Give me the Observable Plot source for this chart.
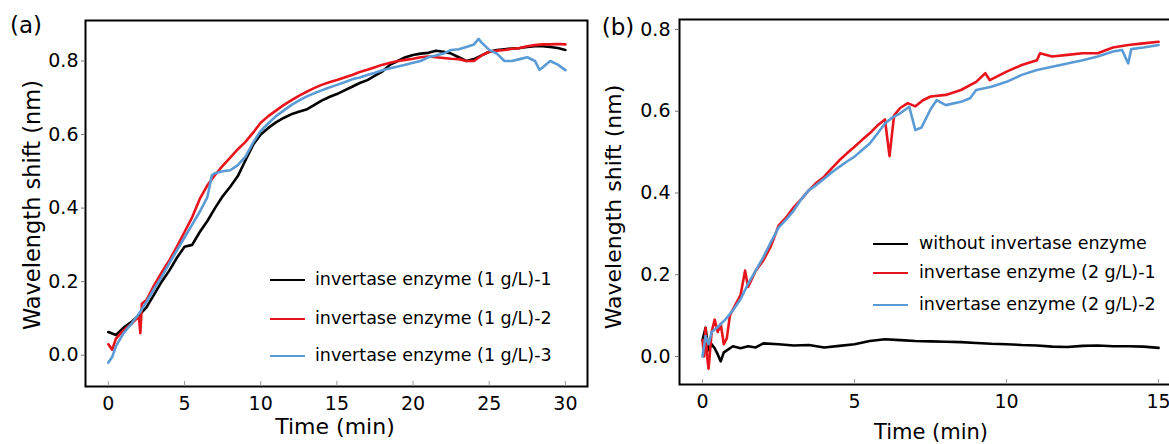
<!DOCTYPE html>
<html><head><meta charset="utf-8">
<script src="https://cdn.jsdelivr.net/npm/d3@7"></script>
<script src="https://cdn.jsdelivr.net/npm/@observablehq/plot@0.6"></script>
<style>
body{margin:0;background:#fff;}
#wrap{position:relative;width:1169px;height:444px;overflow:hidden;font-family:"DejaVu Sans",sans-serif;color:#000;background:#fff;}
.abs{position:absolute;white-space:nowrap;line-height:1;}
.panel{position:absolute;top:0;}
</style></head><body><div id="wrap"></div>
<script>
// ---------- Panel (a) data ----------
const xTicksA = [0, 5, 10, 15, 20, 25, 30];
const yTicksA = [0.0, 0.2, 0.4, 0.6, 0.8];
const labelsA = ["invertase enzyme (1 g/L)-1", "invertase enzyme (1 g/L)-2", "invertase enzyme (1 g/L)-3"];

const tA1 = [0,0.5,1,1.5,2,2.5,3,3.5,4,4.5,5,5.5,6,6.5,7,7.5,8,8.5,9,9.5,10,10.5,11,11.5,12,12.5,13,13.5,14,14.5,15,15.5,16,16.5,17,17.5,18,18.5,19,19.5,20,20.5,21,21.5,22,22.5,23,23.5,24,24.5,25,25.5,26,26.5,27,27.5,28,28.5,29,29.5,30];
const vA1 = [0.063,0.055,0.075,0.09,0.108,0.13,0.165,0.2,0.23,0.265,0.295,0.30,0.335,0.365,0.40,0.432,0.458,0.487,0.53,0.572,0.60,0.618,0.633,0.645,0.655,0.662,0.668,0.68,0.692,0.702,0.71,0.72,0.73,0.74,0.748,0.76,0.772,0.79,0.80,0.81,0.816,0.82,0.822,0.828,0.825,0.82,0.81,0.80,0.805,0.815,0.825,0.83,0.832,0.834,0.835,0.838,0.84,0.84,0.838,0.835,0.83];

const tA2 = [0,0.25,0.5,1,1.5,2,2.1,2.2,2.5,3,3.5,4,4.5,5,5.5,6,6.5,7,7.5,8,8.5,9,9.5,10,10.5,11,11.5,12,12.5,13,13.5,14,14.5,15,15.5,16,16.5,17,17.5,18,18.5,19,19.5,20,20.5,21,21.5,22,22.5,23,23.5,24,24.5,25,25.5,26,26.5,27,27.5,28,28.5,29,29.5,30];
const vA2 = [0.03,0.015,0.045,0.068,0.085,0.105,0.06,0.14,0.15,0.19,0.225,0.258,0.295,0.335,0.375,0.425,0.462,0.49,0.515,0.537,0.56,0.58,0.605,0.632,0.65,0.665,0.68,0.693,0.705,0.716,0.726,0.735,0.742,0.748,0.755,0.762,0.77,0.776,0.783,0.79,0.795,0.80,0.803,0.806,0.81,0.812,0.81,0.808,0.806,0.805,0.80,0.80,0.815,0.825,0.828,0.83,0.833,0.835,0.84,0.843,0.845,0.845,0.846,0.845];

const tA3 = [0,0.25,0.5,1,1.5,2,2.5,3,3.5,4,4.5,5,5.5,6,6.5,6.8,7,7.5,8,8.5,9,9.5,10,10.5,11,11.5,12,12.5,13,13.5,14,14.5,15,15.5,16,16.5,17,17.5,18,18.5,19,19.5,20,20.5,21,21.5,22,22.5,23,23.5,24,24.3,24.5,25,25.5,26,26.5,27,27.5,28,28.3,28.5,29,29.5,30];
const vA3 = [-0.02,-0.005,0.025,0.06,0.085,0.112,0.145,0.18,0.213,0.25,0.285,0.32,0.355,0.39,0.43,0.49,0.495,0.50,0.503,0.517,0.54,0.578,0.61,0.63,0.65,0.665,0.68,0.692,0.703,0.712,0.72,0.728,0.735,0.742,0.75,0.755,0.762,0.768,0.775,0.78,0.785,0.79,0.795,0.80,0.81,0.815,0.82,0.83,0.832,0.838,0.845,0.86,0.85,0.83,0.82,0.80,0.80,0.805,0.81,0.80,0.776,0.782,0.80,0.79,0.775];

// ---------- Panel (b) data ----------
const xTicksB = [0, 5, 10, 15];
const yTicksB = [0.0, 0.2, 0.4, 0.6, 0.8];
const labelsB = ["without invertase enzyme", "invertase enzyme (2 g/L)-1", "invertase enzyme (2 g/L)-2"];

const tB1 = [0,0.1,0.2,0.3,0.4,0.5,0.6,0.7,0.8,1,1.25,1.5,1.75,2,2.5,3,3.5,4,4.5,5,5.5,6,6.5,7,7.5,8,8.5,9,9.5,10,10.5,11,11.5,12,12.5,13,13.5,14,14.5,15];
const vB1 = [0.04,0.07,0.015,0.03,0.02,0.005,-0.012,0.01,0.015,0.025,0.02,0.025,0.022,0.032,0.03,0.027,0.028,0.022,0.026,0.03,0.038,0.042,0.04,0.038,0.037,0.036,0.035,0.033,0.031,0.03,0.028,0.027,0.024,0.023,0.026,0.027,0.025,0.025,0.024,0.021];

const tB2 = [0,0.05,0.1,0.15,0.2,0.3,0.4,0.5,0.6,0.7,0.8,0.9,1,1.25,1.4,1.5,1.75,2,2.25,2.5,2.75,3,3.25,3.5,3.75,4,4.25,4.5,4.75,5,5.25,5.5,5.75,6,6.15,6.3,6.5,6.75,7,7.25,7.5,8,8.5,9,9.3,9.45,10,10.5,11,11.1,11.5,12,12.5,13,13.5,14,14.5,15];
const vB2 = [0.04,0.0,0.07,0.0,-0.03,0.06,0.09,0.06,0.08,0.03,0.045,0.10,0.115,0.15,0.21,0.17,0.21,0.235,0.27,0.32,0.34,0.365,0.385,0.407,0.425,0.44,0.46,0.48,0.497,0.513,0.53,0.546,0.565,0.58,0.49,0.59,0.608,0.62,0.612,0.627,0.636,0.64,0.652,0.672,0.693,0.676,0.697,0.713,0.725,0.742,0.734,0.738,0.742,0.742,0.756,0.762,0.766,0.77];

const tB3 = [0,0.1,0.2,0.3,0.5,0.75,1,1.25,1.5,1.75,2,2.25,2.5,2.75,3,3.25,3.5,3.75,4,4.25,4.5,4.75,5,5.25,5.5,5.75,6,6.25,6.5,6.8,7,7.2,7.5,7.7,8,8.5,8.8,9,9.5,10,10.5,11,11.5,12,12.5,13,13.5,13.8,14,14.1,14.5,15];
const vB3 = [0.0,0.05,0.03,0.06,0.072,0.09,0.113,0.14,0.178,0.21,0.243,0.28,0.315,0.335,0.357,0.385,0.407,0.42,0.435,0.45,0.464,0.477,0.489,0.505,0.521,0.545,0.57,0.585,0.595,0.611,0.554,0.56,0.605,0.627,0.615,0.623,0.632,0.652,0.66,0.672,0.689,0.701,0.709,0.717,0.725,0.734,0.746,0.75,0.717,0.752,0.756,0.762];

const colors = ["#000000", "#e8141c", "#5a9bd5"];

const pts = (ts, vs) => ts.map((t, i) => ({t, v: vs[i]}));

function panel({width, ml, mr, mt, mb, xd, yd, xt, yt, series, tickPad}) {
  return Plot.plot({
    width, height: 444,
    marginLeft: ml, marginRight: mr, marginTop: mt, marginBottom: mb,
    x: {domain: xd},
    y: {domain: yd},
    style: {fontFamily: "DejaVu Sans", fontSize: "19px", color: "#000", background: "transparent", overflow: "visible"},
    marks: [
      ...series.map((s, i) => Plot.line(pts(s[0], s[1]), {x: "t", y: "v", stroke: colors[i], strokeWidth: 2.6, strokeLinejoin: "round"})),
      Plot.frame({stroke: "#000", strokeWidth: 2}),
      Plot.axisY({ticks: yt, tickFormat: d3.format(".1f"), tickSize: 4, tickPadding: tickPad, label: null, stroke: "#777", fill: "#000"}),
      Plot.axisX({ticks: xt, tickFormat: d3.format("d"), tickSize: 0, tickPadding: 10, label: null, fill: "#000"}),
      Plot.axisX({ticks: xt, tickSize: 5, dy: -5, label: null, fill: "none", stroke: "#999"})
    ]
  });
}

const wrap = document.getElementById("wrap");

const pa = panel({width: 590, ml: 85, mr: 3, mt: 20, mb: 58, xd: [-1.5, 31.45], yd: [-0.085, 0.91], xt: xTicksA, yt: yTicksA,
  series: [[tA1, vA1], [tA2, vA2], [tA3, vA3]], tickPad: 3});
pa.classList.add("panel"); pa.style.left = "0px";
wrap.appendChild(pa);

const pb = panel({width: 585, ml: 89, mr: 2, mt: 19, mb: 60, xd: [-0.757, 15.49], yd: [-0.0686, 0.8245], xt: xTicksB, yt: yTicksB,
  series: [[tB1, vB1], [tB2, vB2], [tB3, vB3]], tickPad: 5});
pb.classList.add("panel"); pb.style.left = "590px";
wrap.appendChild(pb);

function addText(txt, x, y, size, rot) {
  const d = document.createElement("div");
  d.className = "abs";
  d.textContent = txt;
  d.style.left = x + "px"; d.style.top = y + "px"; d.style.fontSize = size + "px";
  d.style.transform = "translate(-50%,-50%)" + (rot ? " rotate(-90deg)" : "");
  wrap.appendChild(d);
}
function addLegend(labels, lx, tx, ys) {
  labels.forEach((lab, i) => {
    const l = document.createElement("div");
    l.className = "abs";
    l.style.left = lx + "px"; l.style.top = (ys[i] - 1) + "px";
    l.style.width = "35px"; l.style.height = "2px"; l.style.background = colors[i];
    wrap.appendChild(l);
    const t = document.createElement("div");
    t.className = "abs";
    t.textContent = lab;
    t.style.left = tx + "px"; t.style.top = ys[i] + "px"; t.style.fontSize = "17.5px";
    t.style.transform = "translateY(-50%)";
    wrap.appendChild(t);
  });
}

addText("(a)", 26, 25, 23, false);
addText("(b)", 618, 27, 23, false);
addText("Wavelength shift (nm)", 32, 205, 22.5, true);
addText("Wavelength shift (nm)", 614, 207, 22, true);
addText("Time (min)", 335, 427, 22, false);
addText("Time (min)", 931, 432, 21, false);
addLegend(labelsA, 270, 315, [280, 319, 356]);
addLegend(labelsB, 873, 919, [244, 273, 305]);
</script></body></html>
